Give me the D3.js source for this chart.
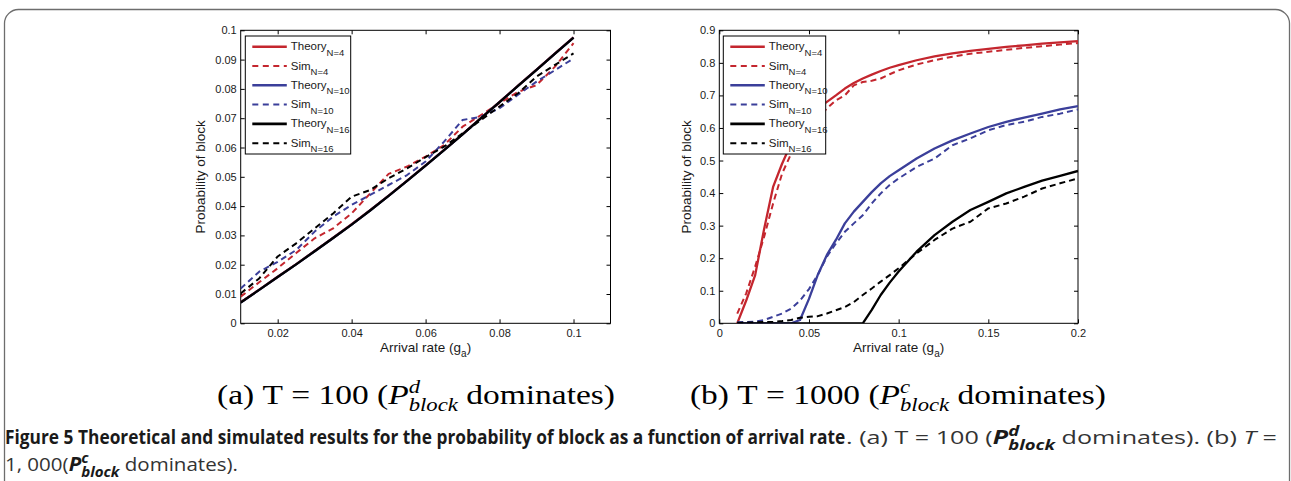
<!DOCTYPE html>
<html><head><meta charset="utf-8">
<script src="https://cdn.jsdelivr.net/npm/d3@7"></script>
<style>body{margin:0;background:#fff}svg{display:block}</style>
</head><body>
<svg id="c" width="1291" height="481"></svg>
<script>
// ---------- DATA ----------
const leftX = [0.01,0.015,0.02,0.025,0.03,0.035,0.04,0.045,0.05,0.055,0.06,0.065,0.07,0.075,0.08,0.085,0.09,0.095,0.1];
const leftTheoryN4  = [0.0072,0.0115,0.0159,0.0202,0.0247,0.0292,0.0338,0.0386,0.0436,0.0487,0.0539,0.0592,0.0646,0.0701,0.0756,0.0811,0.0866,0.0921,0.0976];
const leftSimN4     = [0.0091,0.0140,0.0188,0.0240,0.0290,0.0324,0.0375,0.0443,0.0510,0.0535,0.0569,0.0608,0.0671,0.0711,0.0751,0.0790,0.0813,0.0876,0.0956];
const leftTheoryN10 = [0.0071,0.0114,0.0158,0.0201,0.0246,0.0291,0.0337,0.0385,0.0435,0.0486,0.0538,0.0591,0.0645,0.0700,0.0755,0.0810,0.0865,0.0920,0.0975];
const leftSimN10    = [0.0119,0.0176,0.0210,0.0250,0.0313,0.0364,0.0404,0.0438,0.0472,0.0506,0.0552,0.0620,0.0694,0.0705,0.0734,0.0780,0.0825,0.0864,0.0904];
const leftTheoryN16 = [0.0071,0.0114,0.0158,0.0201,0.0246,0.0291,0.0337,0.0385,0.0435,0.0486,0.0538,0.0591,0.0645,0.0700,0.0755,0.0810,0.0865,0.0920,0.0975];
const leftSimN16    = [0.0102,0.0153,0.0228,0.0273,0.0324,0.0375,0.0432,0.0455,0.0495,0.0529,0.0567,0.0603,0.0648,0.0694,0.0740,0.0785,0.0842,0.0882,0.0921];

const rightX = [0.01,0.015,0.02,0.025,0.03,0.035,0.04,0.045,0.05,0.055,0.06,0.065,0.07,0.075,0.08,0.085,0.09,0.095,0.1,0.11,0.12,0.13,0.14,0.15,0.16,0.17,0.18,0.19,0.2];
const rightTheoryN4  = [0,0.07,0.148,0.29,0.419,0.49,0.552,0.6,0.635,0.66,0.68,0.70,0.721,0.738,0.752,0.764,0.775,0.785,0.793,0.808,0.82,0.829,0.837,0.843,0.849,0.854,0.859,0.863,0.867];
const rightSimN4     = [0.03,0.092,0.174,0.266,0.368,0.46,0.52,0.56,0.60,0.63,0.66,0.685,0.70,0.731,0.741,0.745,0.752,0.765,0.777,0.795,0.808,0.819,0.828,0.834,0.84,0.846,0.851,0.856,0.861];
const rightTheoryN10 = [0,0,0,0,0,0,0,0.01,0.075,0.15,0.21,0.256,0.307,0.343,0.373,0.403,0.43,0.452,0.47,0.506,0.537,0.562,0.583,0.603,0.619,0.632,0.644,0.657,0.667];
const rightSimN10    = [0.003,0.004,0.005,0.01,0.02,0.03,0.045,0.07,0.105,0.15,0.205,0.245,0.281,0.307,0.332,0.368,0.399,0.425,0.445,0.48,0.506,0.547,0.568,0.593,0.609,0.619,0.634,0.644,0.657];
const rightTheoryN16 = [0,0,0,0,0,0,0,0,0,0,0,0,0,0,0,0.041,0.087,0.125,0.159,0.22,0.271,0.312,0.348,0.373,0.399,0.419,0.438,0.453,0.468];
const rightSimN16    = [0.002,0.002,0.003,0.004,0.005,0.007,0.01,0.017,0.02,0.022,0.03,0.04,0.05,0.065,0.087,0.107,0.128,0.148,0.169,0.215,0.256,0.291,0.312,0.353,0.368,0.389,0.414,0.43,0.445];

const leftXTicks = [0.02,0.04,0.06,0.08,0.1];
const leftXTickLabels = ['0.02','0.04','0.06','0.08','0.1'];
const leftYTicks = [0,0.01,0.02,0.03,0.04,0.05,0.06,0.07,0.08,0.09,0.1];
const leftYTickLabels = ['0','0.01','0.02','0.03','0.04','0.05','0.06','0.07','0.08','0.09','0.1'];
const rightXTicks = [0,0.05,0.1,0.15,0.2];
const rightXTickLabels = ['0','0.05','0.1','0.15','0.2'];
const rightYTicks = [0,0.1,0.2,0.3,0.4,0.5,0.6,0.7,0.8,0.9];
const rightYTickLabels = ['0','0.1','0.2','0.3','0.4','0.5','0.6','0.7','0.8','0.9'];

const legendNames = ['Theory','Sim','Theory','Sim','Theory','Sim'];
const legendSubs  = ['N=4','N=4','N=10','N=10','N=16','N=16'];
const seriesColors = ['#c4262e','#c4262e','#3b3f9a','#3b3f9a','#000000','#000000'];
const seriesDashed = [false,true,false,true,false,true];

const xAxisTitle = 'Arrival rate (g';
const xAxisSub = 'a';
const yAxisTitle = 'Probability of block';

// ---------- DRAW ----------
const svg = d3.select('#c');
const SANS = "'Liberation Sans', Arial, Helvetica, sans-serif";

// outer frame
svg.append('rect').attr('x',4.5).attr('y',9.5).attr('width',1285).attr('height',700).attr('rx',14)
  .attr('fill','none').attr('stroke','#6d6d6d').attr('stroke-width',1.3);

function plot(cfg){
  const g = svg.append('g');
  const x = d3.scaleLinear().domain(cfg.xDomain).range([cfg.l, cfg.r]);
  const y = d3.scaleLinear().domain(cfg.yDomain).range([cfg.b, cfg.t]);
  const id = 'clip'+cfg.name;
  svg.append('clipPath').attr('id',id).append('rect')
    .attr('x',cfg.l).attr('y',cfg.t).attr('width',cfg.r-cfg.l).attr('height',cfg.b-cfg.t);

  const fmtX = (d,i)=>cfg.xTickLabels[i], fmtY=(d,i)=>cfg.yTickLabels[i];
  const ax = [
    g.append('g').attr('transform',`translate(0,${cfg.b})`).call(d3.axisBottom(x).tickValues(cfg.xTicks).tickFormat(fmtX).tickSizeInner(-4).tickSizeOuter(0).tickPadding(6)),
    g.append('g').attr('transform',`translate(0,${cfg.t})`).call(d3.axisTop(x).tickValues(cfg.xTicks).tickFormat('').tickSizeInner(-4).tickSizeOuter(0)),
    g.append('g').attr('transform',`translate(${cfg.l},0)`).call(d3.axisLeft(y).tickValues(cfg.yTicks).tickFormat(fmtY).tickSizeInner(-4).tickSizeOuter(0).tickPadding(4)),
    g.append('g').attr('transform',`translate(${cfg.r},0)`).call(d3.axisRight(y).tickValues(cfg.yTicks).tickFormat('').tickSizeInner(-4).tickSizeOuter(0))
  ];
  ax.forEach(a=>{
    a.select('.domain').remove();
    a.selectAll('line').attr('stroke','#000').attr('stroke-width',1);
    a.selectAll('text').style('font-family',SANS).style('font-size','11px').attr('fill','#1a1a1a');
  });
  g.append('rect').attr('x',cfg.l).attr('y',cfg.t).attr('width',cfg.r-cfg.l).attr('height',cfg.b-cfg.t)
    .attr('fill','none').attr('stroke','#000').attr('stroke-width',1);

  const line = d3.line().x(d=>x(d[0])).y(d=>y(d[1]));
  const lines = g.append('g').attr('clip-path',`url(#${id})`);
  cfg.series.forEach((s,i)=>{
    lines.append('path').datum(d3.zip(cfg.xs, s)).attr('d',line)
      .attr('fill','none').attr('stroke',seriesColors[i])
      .attr('stroke-width',seriesDashed[i]?2:2.3)
      .attr('stroke-dasharray',seriesDashed[i]?'6,4':null)
      .attr('stroke-linejoin','round');
  });

  // axis titles
  const xt = g.append('text').attr('x',(cfg.l+cfg.r)/2).attr('y',cfg.b+29).attr('text-anchor','middle')
    .style('font-family',SANS).style('font-size','13.5px').attr('fill','#1a1a1a');
  xt.append('tspan').text(xAxisTitle);
  xt.append('tspan').text(xAxisSub).attr('dy',5).style('font-size','10px');
  xt.append('tspan').text(')').attr('dy',-5);
  g.append('text').attr('transform',`translate(${cfg.ylabX},${(cfg.t+cfg.b)/2}) rotate(-90)`)
    .attr('text-anchor','middle').style('font-family',SANS).style('font-size','13.5px').attr('fill','#1a1a1a')
    .text(yAxisTitle);

  // legend
  const L = cfg.legend;
  const lg = g.append('g');
  lg.append('rect').attr('x',L.x).attr('y',L.y).attr('width',L.w).attr('height',L.h)
    .attr('fill','#fff').attr('stroke','#000').attr('stroke-width',1);
  legendNames.forEach((n,i)=>{
    const yy = L.y + 10.7 + i*19.3;
    lg.append('line').attr('x1',L.x+7).attr('x2',L.x+41.5).attr('y1',yy).attr('y2',yy)
      .attr('stroke',seriesColors[i]).attr('stroke-width',seriesDashed[i]?2:2.6)
      .attr('stroke-dasharray',seriesDashed[i]?'6,4.5':null);
    const t = lg.append('text').attr('x',L.x+45.5).attr('y',yy+3.5)
      .style('font-family',SANS).style('font-size','11.5px').attr('fill','#1a1a1a');
    t.append('tspan').text(n);
    t.append('tspan').text(legendSubs[i]).attr('dy',5.5).style('font-size','9.5px');
  });
}

plot({name:'L', l:240.7, r:610.5, t:30.3, b:323.3, xDomain:[0.01,0.11], yDomain:[0,0.1],
  xTicks:leftXTicks, xTickLabels:leftXTickLabels, yTicks:leftYTicks, yTickLabels:leftYTickLabels,
  xs:leftX, series:[leftTheoryN4,leftSimN4,leftTheoryN10,leftSimN10,leftTheoryN16,leftSimN16],
  ylabX:205, legend:{x:245.3,y:36,w:105.4,h:118}});

plot({name:'R', l:719.3, r:1078, t:30.3, b:323.3, xDomain:[0,0.2], yDomain:[0,0.9],
  xTicks:rightXTicks, xTickLabels:rightXTickLabels, yTicks:rightYTicks, yTickLabels:rightYTickLabels,
  xs:rightX, series:[rightTheoryN4,rightSimN4,rightTheoryN10,rightSimN10,rightTheoryN16,rightSimN16],
  ylabX:691, legend:{x:723.3,y:36,w:102.4,h:118}});

// ---------- rich text helper ----------
function rich(segs, x0, base, target, fam){
  const grp = svg.append('g');
  let x = 0, maxX = 0, marks = {};
  segs.forEach(s=>{
    if (s.at) x = marks[s.at];
    if (s.after) x = maxX;
    if (s.mark) marks[s.mark] = x;
    const t = grp.append('text').attr('x',x).attr('y',s.dy||0)
      .style('font-family',s.f||fam).style('font-size',s.size+'px')
      .style('font-style',s.it?'italic':'normal').style('font-weight',s.b?'bold':'normal')
      .attr('fill',s.c||'#000').text(s.t.replace(/ /g,'\u00A0'));
    x += t.node().getComputedTextLength();
    maxX = Math.max(maxX, x);
  });
  const k = target ? target/maxX : 1;
  grp.attr('transform',`translate(${x0},${base}) scale(${k},1)`);
  return grp;
}

const SERIF = "'Liberation Serif','DejaVu Serif',serif";
const capA = [
  {t:'(a) T = 100 (',size:28},
  {t:'P',size:28,it:true,mark:'p'},
  {t:'d',size:19,it:true,dy:-11,mark:'s'},
  {t:'block',size:19,it:true,dy:7,at:'s'},
  {t:' dominates)',size:28,after:true}
];
rich(capA, 217, 404, 398, SERIF);
const capB = [
  {t:'(b) T = 1000 (',size:28},
  {t:'P',size:28,it:true},
  {t:'c',size:19,it:true,dy:-11,mark:'s'},
  {t:'block',size:19,it:true,dy:7,at:'s'},
  {t:' dominates)',size:28,after:true}
];
rich(capB, 690, 404, 416, SERIF);

const CAP = "'Liberation Sans Narrow','Open Sans','Liberation Sans',sans-serif";
rich([{t:'Figure 5 Theoretical and simulated results for the probability of block as a function of arrival rate',size:19,b:true,c:'#1a1a1a'}],
  5, 444, 841, CAP);
rich([
  {t:'. (a) T = 100 (',size:19,c:'#333'},
  {t:'P',size:19,b:true,it:true,c:'#1a1a1a'},
  {t:'d',size:14,b:true,it:true,dy:-8,mark:'s',c:'#1a1a1a'},
  {t:'block',size:14,b:true,it:true,dy:6,at:'s',c:'#1a1a1a'},
  {t:' dominates). (b) ',size:19,after:true,c:'#333'},
  {t:'T',size:19,it:true,c:'#333'},
  {t:' =',size:19,c:'#333'}
], 846, 444, 431, CAP);
rich([
  {t:'1, 000(',size:19,c:'#333'},
  {t:'P',size:19,b:true,it:true,c:'#1a1a1a'},
  {t:'c',size:14,b:true,it:true,dy:-8,mark:'s',c:'#1a1a1a'},
  {t:'block',size:14,b:true,it:true,dy:6,at:'s',c:'#1a1a1a'},
  {t:' dominates).',size:19,after:true,c:'#333'}
], 5, 471, 233, CAP);
</script></body></html>
